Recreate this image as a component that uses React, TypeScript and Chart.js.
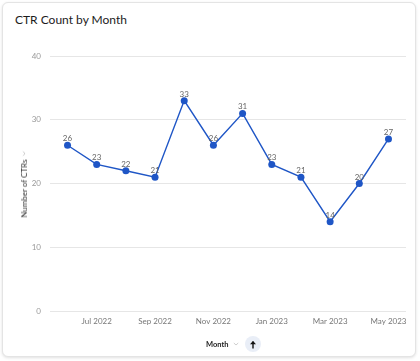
import React, { useEffect, useRef } from 'react';
import { Chart, registerables } from 'chart.js';

Chart.register(...registerables);

const chartTitle = 'CTR Count by Month';
const yAxisTitle = 'Number of CTRs';
const xAxisTitle = 'Month';
const months = ['Jun 2022', 'Jul 2022', 'Aug 2022', 'Sep 2022', 'Oct 2022', 'Nov 2022', 'Dec 2022', 'Jan 2023', 'Feb 2023', 'Mar 2023', 'Apr 2023', 'May 2023'];
const ctrCounts = [26, 23, 22, 21, 33, 26, 31, 23, 21, 14, 20, 27];
const xTickLabels = ['Jul 2022', 'Sep 2022', 'Nov 2022', 'Jan 2023', 'Mar 2023', 'May 2023'];
const yTickValues = [0, 10, 20, 30, 40];

const FONT = 'Lato, "Noto Sans", sans-serif';
const BLUE = '#1f56c6';

const valueLabels = {
  id: 'valueLabels',
  afterDatasetsDraw(chart: any) {
    const ctx = chart.ctx;
    const meta = chart.getDatasetMeta(0);
    const data = chart.data.datasets[0].data as any[];
    ctx.save();
    ctx.font = `8px ${FONT}`;
    ctx.fillStyle = '#666';
    ctx.textAlign = 'center';
    ctx.textBaseline = 'alphabetic';
    meta.data.forEach((pt: any, i: number) => {
      ctx.fillText(String(data[i].y), pt.x, pt.y - 4);
    });
    ctx.restore();
  },
};

function Caret() {
  return (
    <svg width="6" height="4" viewBox="0 0 6 4" style={{ display: 'block' }}>
      <path d="M0.8 1 L3 3 L5.2 1" fill="none" stroke="#c2c2c2" strokeWidth="0.8" />
    </svg>
  );
}

export default function App() {
  const canvasRef = useRef<HTMLCanvasElement | null>(null);

  useEffect(() => {
    const canvas = canvasRef.current;
    if (!canvas) return;
    const chart = new Chart(canvas, {
      type: 'line',
      data: {
        datasets: [
          {
            data: ctrCounts.map((v, i) => ({ x: i, y: v })),
            borderColor: BLUE,
            backgroundColor: BLUE,
            borderWidth: 1.4,
            pointRadius: 3.5,
            pointBorderWidth: 0,
            pointBackgroundColor: BLUE,
            tension: 0,
          },
        ],
      },
      options: {
        responsive: false,
        maintainAspectRatio: false,
        animation: false,
        layout: { padding: { top: 56, right: 14, left: 0, bottom: 0 } },
        plugins: { legend: { display: false }, tooltip: { enabled: false }, title: { display: false } },
        scales: {
          x: {
            type: 'linear',
            min: -0.6,
            max: 11.6,
            grid: { display: false, drawTicks: false },
            border: { display: false },
            afterBuildTicks: (s: any) => {
              s.ticks = xTickLabels.map((l) => ({ value: months.indexOf(l) }));
            },
            afterFit: (s: any) => {
              s.height = 50;
            },
            ticks: {
              autoSkip: false,
              maxRotation: 0,
              padding: 6,
              color: '#777',
              font: { family: FONT, size: 8 },
              callback: (v: any) => months[v as number],
            },
          },
          y: {
            min: 0,
            max: 40,
            grid: { color: '#e6e6e6', drawTicks: false, lineWidth: 1 },
            border: { display: false },
            afterBuildTicks: (s: any) => {
              s.ticks = yTickValues.map((v) => ({ value: v }));
            },
            afterFit: (s: any) => {
              s.width = 50;
            },
            ticks: {
              padding: 9,
              color: '#999',
              font: { family: FONT, size: 8 },
            },
          },
        },
      },
      plugins: [valueLabels],
    } as any);
    return () => chart.destroy();
  }, []);

  return (
    <div style={{ position: 'absolute', left: 0, top: 0, width: 420, height: 361, overflow: 'hidden', background: '#fff', fontFamily: FONT }}>
      <div
        style={{
          position: 'absolute',
          left: 2,
          top: 2,
          width: 414,
          height: 355,
          boxSizing: 'border-box',
          border: '1px solid #e4e4e4',
          borderRadius: 6,
          boxShadow: '0 1px 3px rgba(0,0,0,0.12)',
          background: '#fff',
        }}
      />
      <div style={{ position: 'absolute', left: 15, top: 13, fontSize: 12, fontWeight: 400, color: '#1c1c1c', whiteSpace: 'nowrap', lineHeight: '14px' }}>
        {chartTitle}
      </div>
      <canvas ref={canvasRef} width={420} height={361} style={{ position: 'absolute', left: 0, top: 0, width: 420, height: 361 }} />
      <div
        style={{
          position: 'absolute',
          left: 23.5,
          top: 184,
          transform: 'translate(-50%, -50%) rotate(-90deg)',
          display: 'flex',
          alignItems: 'center',
          whiteSpace: 'nowrap',
          fontSize: 8,
          color: '#333',
          gap: 3,
        }}
      >
        <span>{yAxisTitle}</span>
        <Caret />
      </div>
      <div style={{ position: 'absolute', left: 206, top: 338, display: 'flex', alignItems: 'center', height: 12, gap: 5, fontSize: 7.5, fontWeight: 700, color: '#222', whiteSpace: 'nowrap' }}>
        <span>{xAxisTitle}</span>
        <Caret />
        <div style={{ width: 16, height: 16, borderRadius: '50%', background: '#e9eef7', display: 'flex', alignItems: 'center', justifyContent: 'center', marginLeft: 1 }}>
          <svg width="8" height="9" viewBox="0 0 8 9">
            <path d="M4 8.5 L4 1.5" stroke="#111" strokeWidth="1.4" fill="none" />
            <path d="M1 4.2 L4 1 L7 4.2 Z" fill="#111" />
          </svg>
        </div>
      </div>
    </div>
  );
}
